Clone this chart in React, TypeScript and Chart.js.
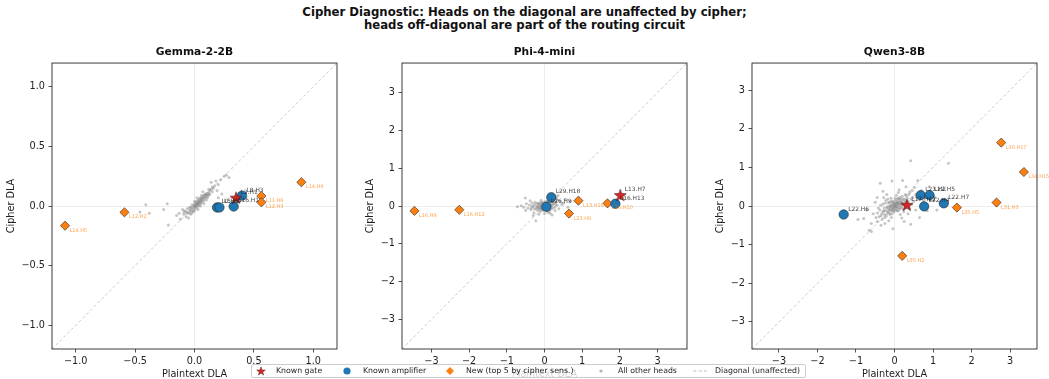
import React, { useEffect, useRef } from 'react';
import { Chart, registerables } from 'chart.js';

Chart.register(...registerables);

const FONT = "'DejaVu Sans', 'Liberation Sans', sans-serif";

type Pair = [number, number];

// ---------- Titles ----------
const suptitleLines = [
  'Cipher Diagnostic: Heads on the diagonal are unaffected by cipher;',
  'heads off-diagonal are part of the routing circuit',
];
const panelTitles = ['Gemma-2-2B', 'Phi-4-mini', 'Qwen3-8B'];
const xAxisTitle = 'Plaintext DLA';
const yAxisTitle = 'Cipher DLA';
const legendLabels = [
  'Known gate',
  'Known amplifier',
  'New (top 5 by cipher sens.)',
  'All other heads',
  'Diagonal (unaffected)',
];

// ---------- Axis ticks / limits ----------
const gemmaTicks = [-1, -0.5, 0, 0.5, 1];
const phiTicks = [-3, -2, -1, 0, 1, 2, 3];
const qwenTicks = [-3, -2, -1, 0, 1, 2, 3];
const axisLimits = [1.2, 3.78, 3.7];

// ---------- Gemma-2-2B ----------
const gemmaGate: Pair[] = [[0.35, 0.07]];
const gemmaGateLabels = ['L3.H1'];
const gemmaAmp: Pair[] = [[0.4, 0.087], [0.33, -0.004], [0.19, -0.012], [0.21, -0.012]];
const gemmaAmpLabels = ['L8.H3', 'L16.H1', 'L0.H5', 'L5.H0'];
const gemmaNew: Pair[] = [[0.9, 0.2], [0.563, 0.084], [0.563, 0.031], [-0.59, -0.053], [-1.09, -0.165]];
const gemmaNewLabels = ['L14.H4', 'L11.H6', 'L12.H3', 'L12.H2', 'L14.H5'];
const gemmaOther: Pair[] = [
  [-0.46, -0.05], [-0.41, 0.01], [-0.38, -0.06], [-0.26, -0.03], [-0.23, 0.02], [-0.22, -0.16],
  [-0.15, -0.08], [-0.13, -0.06], [-0.12, -0.11], [-0.1, -0.03], [-0.09, -0.07], [-0.08, -0.04],
  [-0.07, -0.09], [-0.06, -0.02], [-0.05, -0.1], [-0.05, -0.05], [-0.04, -0.03], [-0.04, -0.06],
  [-0.03, -0.01], [-0.03, -0.04], [-0.02, -0.02], [-0.02, -0.05], [-0.01, 0.0], [-0.01, -0.03],
  [0.0, -0.01], [0.0, 0.02], [0.01, 0.0], [0.01, -0.02], [0.01, 0.03], [0.02, 0.01], [0.02, -0.01],
  [0.02, 0.04], [0.03, 0.02], [0.03, 0.0], [0.03, 0.05], [0.04, 0.03], [0.04, 0.01], [0.04, 0.06],
  [0.05, 0.04], [0.05, 0.02], [0.05, 0.07], [0.06, 0.05], [0.06, 0.03], [0.07, 0.06], [0.07, 0.08],
  [0.08, 0.05], [0.08, 0.09], [0.09, 0.07], [0.09, 0.1], [0.1, 0.08], [0.11, 0.11], [0.12, 0.09],
  [0.13, 0.13], [0.14, 0.2], [0.15, 0.12], [0.16, 0.15], [0.19, 0.13], [0.2, 0.18], [0.25, 0.25],
  [0.27, 0.26], [0.29, 0.24], [0.1, 0.05], [0.12, 0.14], [0.06, 0.09], [-0.02, 0.01], [0.0, 0.04],
  [0.03, -0.03], [-0.07, -0.05], [0.08, 0.02], [0.15, 0.16], [0.11, 0.07], [0.23, 0.1], [0.07, 0.12],
  [0.2, 0.07], [0.02, 0.07], [-0.09, -0.05], [-0.06, -0.06], [-0.04, -0.01], [-0.01, -0.05],
  [0.0, 0.0], [0.01, 0.01], [0.02, 0.02], [0.03, 0.03], [0.04, 0.04], [0.05, 0.05], [0.06, 0.07],
  [0.07, 0.04], [0.08, 0.07], [0.09, 0.09], [0.1, 0.1], [0.11, 0.09], [0.12, 0.11], [0.13, 0.1],
  [0.14, 0.14], [0.17, 0.17], [0.18, 0.21], [0.22, 0.22], [0.05, 0.0], [-0.03, -0.07], [0.0, -0.04],
];

// ---------- Phi-4-mini ----------
const phiGate: Pair[] = [[2.01, 0.29]];
const phiGateLabels = ['L13.H7'];
const phiAmp: Pair[] = [[1.88, 0.06], [0.18, 0.23], [0.05, -0.02]];
const phiAmpLabels = ['L16.H13', 'L29.H18', 'L26.H9'];
const phiNew: Pair[] = [[0.9, 0.14], [1.67, 0.07], [0.65, -0.2], [-3.45, -0.13], [-2.26, -0.1]];
const phiNewLabels = ['L13.H16', 'L16.H10', 'L23.H9', 'L16.H9', 'L16.H12'];
const phiOther: Pair[] = [
  [-0.72, -0.02], [-0.62, 0.01], [-0.55, -0.03], [-0.51, 0.21], [-0.48, 0.06], [-0.44, -0.06],
  [-0.4, 0.03], [-0.36, -0.1], [-0.33, 0.08], [-0.3, -0.02], [-0.28, -0.18], [-0.26, 0.04],
  [-0.23, -0.39], [-0.22, -0.08], [-0.2, 0.01], [-0.18, -0.12], [-0.16, 0.06], [-0.14, -0.04],
  [-0.12, -0.15], [-0.11, 0.02], [-0.1, -0.07], [-0.08, 0.1], [-0.07, -0.02], [-0.06, -0.1],
  [-0.05, 0.03], [-0.04, -0.05], [-0.03, 0.06], [-0.02, -0.01], [-0.01, -0.08], [0.0, 0.02],
  [0.01, -0.04], [0.02, 0.07], [0.03, 0.0], [0.04, -0.12], [0.05, 0.05], [0.06, -0.02], [0.07, 0.1],
  [0.08, 0.03], [0.1, -0.06], [0.11, 0.13], [0.12, 0.04], [0.14, -0.1], [0.15, -0.19], [0.16, 0.08],
  [0.18, 0.0], [0.2, 0.16], [0.22, -0.05], [0.24, 0.06], [0.26, 0.2], [0.28, -0.12], [0.3, 0.11],
  [0.33, 0.02], [0.36, 0.28], [0.38, -0.07], [0.42, 0.12], [0.46, 0.04], [0.5, 0.07], [0.55, 0.18],
  [0.62, -0.03], [0.68, 0.13], [-0.3, -0.25], [-0.15, -0.22], [0.0, -0.2], [-0.09, 0.15],
  [0.09, -0.17], [0.2, -0.24], [-0.5, -0.12], [0.32, 0.22], [-0.38, 0.14], [0.12, 0.24],
  [-0.35, -0.05], [-0.32, 0.0], [-0.27, -0.08], [-0.25, 0.1], [-0.21, -0.03], [-0.19, 0.07],
  [-0.17, -0.05], [-0.15, 0.0], [-0.13, 0.08], [-0.12, -0.08], [-0.09, 0.04], [-0.08, -0.04],
  [-0.06, 0.07], [-0.05, -0.12], [-0.03, 0.0], [-0.02, 0.1], [0.0, -0.05], [0.01, 0.05],
  [0.03, 0.12], [0.04, -0.07], [0.06, 0.06], [0.08, -0.1], [0.09, 0.14], [0.1, 0.02],
  [0.12, -0.14], [0.13, 0.09], [0.16, 0.02], [0.18, -0.08], [0.19, 0.12], [0.22, 0.04],
  [0.25, 0.14], [0.27, -0.03], [0.3, 0.05], [0.34, 0.16],
];

// ---------- Qwen3-8B ----------
const qwenGate: Pair[] = [[0.32, 0.03]];
const qwenGateLabels = ['L17.H12'];
const qwenAmp: Pair[] = [[-1.32, -0.22], [0.68, 0.28], [0.91, 0.28], [0.77, -0.01], [1.28, 0.07]];
const qwenAmpLabels = ['L22.H6', 'L23.H2', 'L22.H5', 'L22.H4', 'L22.H7'];
const qwenNew: Pair[] = [[2.77, 1.64], [3.36, 0.88], [2.65, 0.09], [1.62, -0.04], [0.2, -1.29]];
const qwenNewLabels = ['L30.H17', 'L34.H15', 'L31.H3', 'L35.H5', 'L35.H2'];
const qwenOther: Pair[] = [
  [-0.95, -0.35], [-0.8, -0.32], [-0.72, -0.1], [-0.66, -0.63], [-0.6, -0.66], [-0.55, -0.2],
  [-0.5, 0.1], [-0.45, -0.4], [-0.42, -0.05], [-0.37, 0.59], [-0.35, -0.25], [-0.3, 0.38],
  [-0.3, 0.05], [-0.28, -0.12], [-0.25, -0.3], [-0.22, 0.15], [-0.2, -0.05], [-0.18, -0.18],
  [-0.16, 0.08], [-0.15, -0.1], [-0.13, 0.0], [-0.12, -0.22], [-0.1, 0.12], [-0.1, -0.06],
  [-0.08, 0.04], [-0.07, 0.65], [-0.07, -0.12], [-0.05, -0.02], [-0.04, -0.59], [-0.04, 0.1],
  [-0.03, -0.08], [-0.02, 0.03], [-0.01, -0.15], [0.0, 0.06], [0.0, -0.03], [0.02, 0.14],
  [0.03, 0.0], [0.04, -0.1], [0.05, 0.08], [0.06, 0.02], [0.07, -0.05], [0.08, 0.18], [0.09, 0.05],
  [0.1, -0.12], [0.11, 0.1], [0.12, 0.01], [0.14, 0.22], [0.15, 0.07], [0.16, -0.06], [0.18, 0.12],
  [0.19, -0.31], [0.2, 0.03], [0.21, 0.66], [0.22, 0.16], [0.24, -0.15], [0.26, 0.09], [0.28, 0.3],
  [0.3, -0.02], [0.33, 0.2], [0.36, 0.12], [0.4, 0.35], [0.42, 1.17], [0.42, -0.47], [0.45, 0.05],
  [0.48, 0.22], [0.52, 0.48], [0.55, -0.1], [0.6, 0.66], [0.62, 0.18], [0.65, -0.3], [0.7, 0.4],
  [0.75, 0.1], [0.85, -0.12], [0.9, 0.5], [1.05, 0.22], [1.1, -0.1], [1.4, 1.11], [0.25, -0.4],
  [-0.2, 0.3], [0.1, 0.35], [-0.15, -0.38], [0.35, -0.2], [0.05, 0.28], [-0.45, 0.22], [0.55, 0.3],
  [-0.6, -0.45], [0.15, -0.22], [-0.25, -0.45], [0.3, 0.5], [-0.08, -0.3],
  [-0.48, -0.3], [-0.44, -0.18], [-0.4, -0.28], [-0.38, -0.1], [-0.36, 0.02], [-0.33, -0.2],
  [-0.32, -0.35], [-0.3, -0.15], [-0.27, -0.05], [-0.26, -0.22], [-0.24, 0.08], [-0.23, -0.12],
  [-0.21, -0.25], [-0.19, -0.02], [-0.17, 0.18], [-0.17, -0.14], [-0.14, -0.06], [-0.13, 0.1],
  [-0.12, -0.18], [-0.11, -0.01], [-0.09, 0.2], [-0.09, -0.1], [-0.07, 0.02], [-0.06, -0.2],
  [-0.05, 0.13], [-0.04, -0.06], [-0.02, 0.08], [-0.02, -0.12], [0.0, 0.0], [0.01, -0.07],
  [0.02, 0.2], [0.03, 0.06], [0.04, -0.02], [0.06, 0.12], [0.07, -0.12], [0.08, 0.08],
  [0.09, -0.03], [0.1, 0.2], [0.12, 0.14], [0.13, -0.08], [0.14, 0.04], [0.16, 0.18], [0.17, 0.1],
  [0.18, -0.02], [0.2, 0.25], [0.22, 0.08], [0.23, -0.08], [0.25, 0.18], [0.27, 0.02], [0.29, 0.14],
  [0.31, 0.26], [0.34, 0.08], [0.37, 0.3], [0.39, -0.06], [0.43, 0.18], [0.46, 0.4], [0.5, 0.12],
  [-0.35, -0.5], [0.12, 0.42], [-0.28, 0.22],
];

// ---------- Colours ----------
const GATE_COLOR = '#d62728';
const AMP_COLOR = '#1f77b4';
const NEW_COLOR = '#ff7f0e';
const OTHER_COLOR = 'rgba(128,128,128,0.45)';
const DIAG_COLOR = '#c4c4c4';
const EDGE = '#262626';

interface PanelCfg {
  title: string;
  lim: number;
  ticks: number[];
  decimals: number;
  gate: Pair[];
  gateLabels: string[];
  amp: Pair[];
  ampLabels: string[];
  neu: Pair[];
  neuLabels: string[];
  other: Pair[];
  yTitlePad: number;
  left: number;
  width: number;
}

const panels: PanelCfg[] = [
  { title: panelTitles[0], lim: axisLimits[0], ticks: gemmaTicks, decimals: 1, gate: gemmaGate, gateLabels: gemmaGateLabels, amp: gemmaAmp, ampLabels: gemmaAmpLabels, neu: gemmaNew, neuLabels: gemmaNewLabels, other: gemmaOther, yTitlePad: 6.9, left: 0, width: 350 },
  { title: panelTitles[1], lim: axisLimits[1], ticks: phiTicks, decimals: 0, gate: phiGate, gateLabels: phiGateLabels, amp: phiAmp, ampLabels: phiAmpLabels, neu: phiNew, neuLabels: phiNewLabels, other: phiOther, yTitlePad: 15.9, left: 350, width: 350 },
  { title: panelTitles[2], lim: axisLimits[2], ticks: qwenTicks, decimals: 0, gate: qwenGate, gateLabels: qwenGateLabels, amp: qwenAmp, ampLabels: qwenAmpLabels, neu: qwenNew, neuLabels: qwenNewLabels, other: qwenOther, yTitlePad: 16.1, left: 700, width: 349 },
];

const CANVAS_TOP = 40;
const CANVAS_H = 339;
const PLOT_W = 285;
const YAXIS_W = 52;
const XAXIS_H = 30;

function toPts(arr: Pair[]) {
  return arr.map(([x, y]) => ({ x, y }));
}

function fmt(v: number, d: number) {
  const s = Math.abs(v).toFixed(d);
  return v < -1e-9 ? '\u2212' + s : s;
}

function starPoints(cx: number, cy: number, r: number) {
  const pts: [number, number][] = [];
  for (let i = 0; i < 10; i++) {
    const rr = i % 2 === 0 ? r : r * 0.4;
    const a = -Math.PI / 2 + (i * Math.PI) / 5;
    pts.push([cx + rr * Math.cos(a), cy + rr * Math.sin(a)]);
  }
  return pts;
}

function makeStar(r: number) {
  const c = document.createElement('canvas');
  const size = Math.ceil(r * 2 + 3);
  c.width = size;
  c.height = size;
  const g = c.getContext('2d')!;
  const pts = starPoints(size / 2, size / 2 + 0.6, r);
  g.beginPath();
  pts.forEach(([x, y], i) => (i === 0 ? g.moveTo(x, y) : g.lineTo(x, y)));
  g.closePath();
  g.fillStyle = GATE_COLOR;
  g.fill();
  g.lineWidth = 0.6;
  g.strokeStyle = '#4a0d0d';
  g.stroke();
  return c;
}

function Panel({ cfg }: { cfg: PanelCfg }) {
  const ref = useRef<HTMLCanvasElement>(null);
  useEffect(() => {
    const star = makeStar(6.3);
    const labelPlugin = {
      id: 'pointLabels' + cfg.title,
      afterDatasetsDraw(chart: any) {
        const ctx = chart.ctx as CanvasRenderingContext2D;
        const draw = (ds: number, labels: string[], color: string, size: number, dy: number) => {
          const meta = chart.getDatasetMeta(ds);
          ctx.save();
          ctx.font = `${size}px ${FONT}`;
          ctx.fillStyle = color;
          ctx.textAlign = 'left';
          ctx.textBaseline = 'alphabetic';
          meta.data.forEach((pt: any, i: number) => {
            ctx.fillText(labels[i], pt.x + 4.5, pt.y + dy);
          });
          ctx.restore();
        };
        draw(2, cfg.neuLabels, 'rgba(255,127,14,0.72)', 5, 6);
        draw(1, cfg.ampLabels, 'rgba(30,30,30,0.85)', 5.9, -4);
        draw(0, cfg.gateLabels, 'rgba(30,30,30,0.85)', 5.9, -4);
        const a = chart.chartArea;
        ctx.save();
        ctx.strokeStyle = '#262626';
        ctx.lineWidth = 0.9;
        ctx.strokeRect(a.left, a.top, a.right - a.left, a.bottom - a.top);
        ctx.restore();
      },
    };

    const zeroGrid = (c: any) => (c.tick && Math.abs(c.tick.value) < 1e-9 ? 'rgba(0,0,0,0.09)' : 'rgba(0,0,0,0)');
    const setTicks = (scale: any) => {
      scale.ticks = cfg.ticks.map((v) => ({ value: v }));
    };

    const chart = new Chart(ref.current!, {
      type: 'scatter',
      data: {
        datasets: [
          { label: 'gate', data: toPts(cfg.gate), pointStyle: star as any, pointRadius: 6.3, backgroundColor: GATE_COLOR, borderWidth: 0 },
          { label: 'amp', data: toPts(cfg.amp), pointStyle: 'circle', pointRadius: 4.7, backgroundColor: AMP_COLOR, borderColor: EDGE, borderWidth: 0.6 },
          { label: 'new', data: toPts(cfg.neu), pointStyle: 'rectRot', pointRadius: 4.6, backgroundColor: NEW_COLOR, borderColor: EDGE, borderWidth: 0.6 },
          { label: 'other', data: toPts(cfg.other), pointStyle: 'circle', pointRadius: 1.5, backgroundColor: OTHER_COLOR, borderWidth: 0 },
          {
            label: 'diag',
            data: [{ x: -cfg.lim, y: -cfg.lim }, { x: cfg.lim, y: cfg.lim }],
            showLine: true,
            borderColor: DIAG_COLOR,
            borderDash: [3, 2.4],
            borderWidth: 0.9,
            pointRadius: 0,
          } as any,
        ],
      },
      options: {
        animation: false,
        responsive: false,
        maintainAspectRatio: false,
        devicePixelRatio: 1,
        events: [],
        layout: { padding: { left: 0, right: cfg.width - YAXIS_W - PLOT_W, top: 0, bottom: 0 } },
        plugins: {
          legend: { display: false },
          tooltip: { enabled: false },
          title: {
            display: true,
            text: cfg.title,
            fullSize: false,
            color: '#111',
            font: { family: FONT, size: 10.7, weight: 'bold', lineHeight: 1.2 },
            padding: { top: 5.6, bottom: 4.6 },
          },
        },
        scales: {
          x: {
            type: 'linear',
            min: -cfg.lim,
            max: cfg.lim,
            afterBuildTicks: setTicks,
            afterFit: (s: any) => {
              s.height = XAXIS_H;
            },
            border: { display: false },
            grid: { color: zeroGrid, lineWidth: 0.8, tickColor: '#262626', tickLength: 3.5, tickWidth: 0.8 },
            ticks: {
              padding: 3.5,
              color: '#222',
              font: { family: FONT, size: 9.7, lineHeight: 1.2 },
              maxRotation: 0,
              autoSkip: false,
              callback: (v: any) => fmt(Number(v), cfg.decimals),
            },
            title: {
              display: true,
              text: xAxisTitle,
              color: '#222',
              font: { family: FONT, size: 9.7, lineHeight: 1 },
              padding: { top: 0, bottom: 0 },
            },
          },
          y: {
            type: 'linear',
            min: -cfg.lim,
            max: cfg.lim,
            afterBuildTicks: setTicks,
            afterFit: (s: any) => {
              s.width = YAXIS_W;
            },
            border: { display: false },
            grid: { color: zeroGrid, lineWidth: 0.8, tickColor: '#262626', tickLength: 3.5, tickWidth: 0.8 },
            ticks: {
              padding: 3.5,
              color: '#222',
              font: { family: FONT, size: 9.7, lineHeight: 1.2 },
              autoSkip: false,
              callback: (v: any) => fmt(Number(v), cfg.decimals),
            },
            title: {
              display: true,
              text: yAxisTitle,
              color: '#222',
              font: { family: FONT, size: 9.7, lineHeight: 1 },
              padding: { top: cfg.yTitlePad, bottom: 0 },
            },
          },
        },
      } as any,
      plugins: [labelPlugin],
    });
    return () => chart.destroy();
  }, []);
  return (
    <canvas
      ref={ref}
      width={cfg.width}
      height={CANVAS_H}
      style={{ position: 'absolute', left: cfg.left, top: CANVAS_TOP, width: cfg.width, height: CANVAS_H }}
    />
  );
}

function Legend() {
  const cy = 371;
  const textStyle = (left: number): React.CSSProperties => ({
    position: 'absolute',
    left,
    top: cy - 5,
    height: 10,
    lineHeight: '10px',
    fontSize: 7.8,
    fontFamily: FONT,
    color: '#222',
    whiteSpace: 'nowrap',
  });
  const sp = starPoints(5, 5.4, 4.6).map(([x, y]) => `${x.toFixed(2)},${y.toFixed(2)}`).join(' ');
  return (
    <>
      <div
        style={{
          position: 'absolute',
          left: 251,
          top: 364,
          width: 555,
          height: 14,
          boxSizing: 'border-box',
          border: '0.8px solid #cccccc',
          borderRadius: 2,
          background: 'rgba(255,255,255,0.8)',
        }}
      />
      <svg style={{ position: 'absolute', left: 256, top: cy - 5 }} width={10} height={10}>
        <polygon points={sp} fill={GATE_COLOR} stroke="#4a0d0d" strokeWidth={0.4} />
      </svg>
      <div style={textStyle(276)}>{legendLabels[0]}</div>
      <svg style={{ position: 'absolute', left: 342, top: cy - 5 }} width={10} height={10}>
        <circle cx={5} cy={5} r={3.6} fill={AMP_COLOR} />
      </svg>
      <div style={textStyle(363)}>{legendLabels[1]}</div>
      <svg style={{ position: 'absolute', left: 445, top: cy - 5 }} width={10} height={10}>
        <polygon points="5,1 9,5 5,9 1,5" fill={NEW_COLOR} />
      </svg>
      <div style={textStyle(466)}>{legendLabels[2]}</div>
      <svg style={{ position: 'absolute', left: 596, top: cy - 5 }} width={10} height={10}>
        <circle cx={5} cy={5} r={1.6} fill="rgba(128,128,128,0.6)" />
      </svg>
      <div style={textStyle(618)}>{legendLabels[3]}</div>
      <svg style={{ position: 'absolute', left: 692, top: cy - 5 }} width={16} height={10}>
        <line x1={1} y1={5} x2={15} y2={5} stroke={DIAG_COLOR} strokeWidth={1} strokeDasharray="3.5,2" />
      </svg>
      <div style={textStyle(715)}>{legendLabels[4]}</div>
    </>
  );
}

export default function App() {
  return (
    <div
      style={{
        position: 'fixed',
        left: 0,
        top: 0,
        width: 1049,
        height: 379,
        background: '#ffffff',
        overflow: 'hidden',
      }}
    >
      {suptitleLines.map((t, i) => (
        <div
          key={i}
          style={{
            position: 'absolute',
            left: 0,
            width: 1049,
            top: 5.5 + i * 13,
            height: 13,
            lineHeight: '13px',
            textAlign: 'center',
            fontFamily: FONT,
            fontWeight: 'bold',
            fontSize: 11.7,
            color: '#111',
            whiteSpace: 'nowrap',
          }}
        >
          {t}
        </div>
      ))}
      {panels.map((p) => (
        <Panel key={p.title} cfg={p} />
      ))}
      <Legend />
    </div>
  );
}
